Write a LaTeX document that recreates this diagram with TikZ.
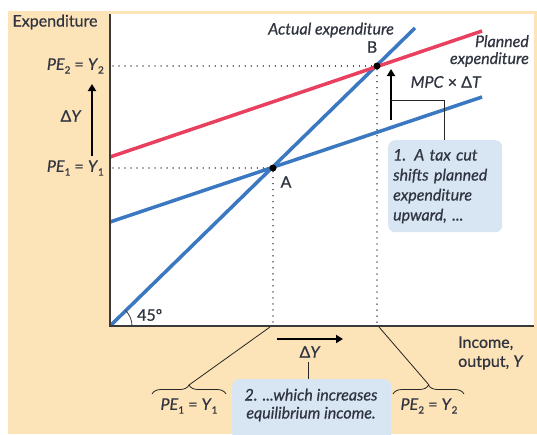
\documentclass[tikz,border=0pt]{standalone}
\usepackage{fontspec}
\setmainfont{Lato}[FakeBold=0.6]
\usetikzlibrary{arrows.meta,decorations.pathreplacing}
\definecolor{bg}{HTML}{FCE3B8}
\definecolor{eblue}{HTML}{3B78C2}
\definecolor{ered}{HTML}{E8405E}
\definecolor{boxblue}{HTML}{D8E5F3}
\definecolor{txt}{HTML}{2F3440}
\definecolor{axisc}{HTML}{3A3A3A}
\newcommand\lsub[1]{\raisebox{-0.45ex}{\fontsize{10}{10}\selectfont #1}}
\begin{document}
\begin{tikzpicture}[x=1pt,y=-1pt,
  lbl/.style={text=txt,font=\fontsize{16}{18}\selectfont,inner sep=1pt},
  ilbl/.style={lbl,font=\fontsize{16}{18}\selectfont\itshape},
  curve/.style={line width=3.5pt},
  guide/.style={line width=1.3pt,dash pattern=on 0.01pt off 6pt,line cap=round,black!80},
  bigarrow/.style={line width=2.6pt,-{Triangle[length=7pt,width=8pt]},black},
  callout/.style={draw=black!85,line width=0.8pt},
  notebox/.style={fill=boxblue,rounded corners=7pt},
  dotpt/.style={circle,fill=black,inner sep=0pt,minimum size=7pt}]
\useasboundingbox (0,0) rectangle (537,434);
% backgrounds
\fill[bg] (8,11) rectangle (537,434);
\fill[white] (110,14) rectangle (534,326);
% curves
\draw[curve,eblue] (110,326) -- (415,28);
\draw[curve,eblue] (110,222) -- (482,97);
\draw[curve,ered] (110,157) -- (482,31);
% axes
\coordinate (O) at (110,326);
\coordinate (ytop) at (110,14);
\coordinate (xend) at (534,326);
\draw[axisc,line width=1.3pt] (ytop) -- (O) -- (xend);
% equilibrium points
\node[dotpt] (A) at (273,168) {};
\node[dotpt] (B) at (377,66) {};
\coordinate (yA) at (113,168);
\coordinate (yB) at (113,66);
\coordinate (xA) at (273,326);
\coordinate (xB) at (377,326);
\draw[guide] (yB) -- (B);
\draw[guide] (yA) -- (A);
\draw[guide] (A) -- (xA);
\draw[guide] (B) -- (xB);
\node[lbl] (Alab) at (286,182) {A};
\node[lbl] (Blab) at (372,47) {B};
% 45 deg
\draw[axisc,line width=0.8pt] (132,326) arc[start angle=0,end angle=45,radius=22pt];
\node[lbl,anchor=west] (deg) at (136,315) {45º};
% y-axis labels
\node[lbl] (ylab) at (55,22) {Expenditure};
\node[lbl,anchor=east] (pe2) at (105,66) {\textit{PE}\lsub{2} = \textit{Y}\lsub{2}};
\node[lbl,anchor=east] (pe1) at (105,168) {\textit{PE}\lsub{1} = \textit{Y}\lsub{1}};
\node[lbl] (dY) at (71,116) {Δ\textit{Y}};
\coordinate (dyb) at (92,156);
\coordinate (dyt) at (92,84);
\draw[bigarrow] (dyb) -- (dyt);
% line labels
\node[ilbl] (actual) at (331,30) {Actual expenditure};
\node[ilbl,anchor=east,align=right,font=\fontsize{16}{17}\selectfont\itshape] (planned) at (530,51) {Planned\\expenditure};
\node[lbl] (mpc) at (446,82) {\textit{MPC} × Δ\textit{T}};
\coordinate (sb) at (391,120);
\coordinate (st) at (391,69);
\draw[bigarrow] (sb) -- (st);
% note 1
\node[notebox,ilbl,anchor=north west,minimum width=113pt,minimum height=92pt,align=left,text width=104pt,font=\fontsize{16}{20}\selectfont\itshape,inner sep=5pt] (note1) at (388,140) {1. A tax cut\\shifts planned\\expenditure\\upward, ...};
\coordinate (c1) at (391,100);
\coordinate (c1b) at (444,140);
\draw[callout] (c1) -| (c1b);
% x-axis label
\node[lbl,anchor=west,align=left,font=\fontsize{16}{19}\selectfont] (xlab) at (457,353) {Income,\\output, \textit{Y}};
% bottom arrow
\coordinate (hb) at (277,339);
\coordinate (he) at (343,339);
\draw[bigarrow] (hb) -- (he);
\node[lbl] (dY2) at (310,352) {Δ\textit{Y}};
% note 2
\node[notebox,anchor=north west,minimum width=159pt,minimum height=62pt] (note2) at (232,379) {};
\node[ilbl,align=center,font=\fontsize{16}{18}\selectfont\itshape] (note2t) at (311,405) {2. ...which increases\\equilibrium income.};
\coordinate (c2) at (308,362);
\coordinate (c2b) at (308,379);
\draw[callout] (c2) -- (c2b);
% braces
\coordinate (br1l) at (152,394);
\coordinate (br1r) at (226,394);
\coordinate (br1t) at (189,385);
\coordinate (br2l) at (393,394);
\coordinate (br2r) at (464,394);
\coordinate (br2t) at (429,385);
\draw[callout,decorate,decoration={brace,amplitude=9pt}] (br1l) -- (br1r);
\draw[callout,decorate,decoration={brace,amplitude=9pt}] (br2l) -- (br2r);
\coordinate (x1) at (270,327);
\coordinate (x2) at (379,327);
\draw[callout] (br1t) -- (x1);
\draw[callout] (br2t) -- (x2);
\node[lbl] (pe1b) at (189,406) {\textit{PE}\lsub{1} = \textit{Y}\lsub{1}};
\node[lbl] (pe2b) at (429,406) {\textit{PE}\lsub{2} = \textit{Y}\lsub{2}};
\end{tikzpicture}
\end{document}
